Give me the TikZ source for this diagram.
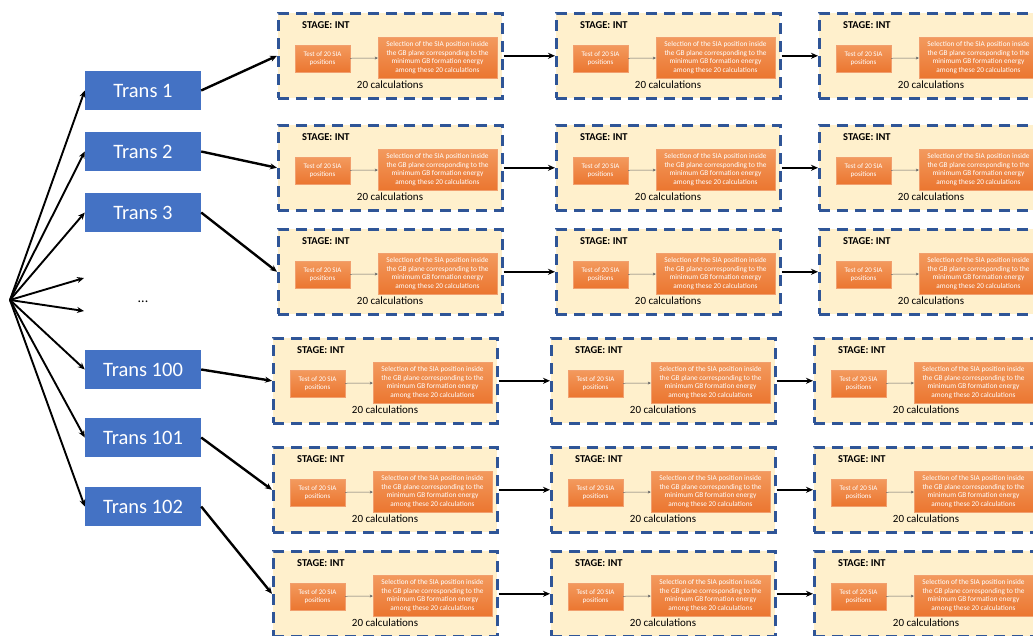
\documentclass[tikz,border=0pt]{standalone}
\usepackage{fontspec}
\setmainfont{Carlito}
\usetikzlibrary{arrows.meta}
\definecolor{transblue}{HTML}{4472C4}
\definecolor{dashblue}{HTML}{2F5597}
\definecolor{stagefill}{HTML}{FFF0CC}
\definecolor{orangetop}{HTML}{F39A5E}
\definecolor{orangebot}{HTML}{EB7630}
\tikzset{
  trans/.style={fill=transblue, text=white, minimum width=116, minimum height=39,
    inner sep=0pt, font=\fontsize{20.5}{24}\selectfont},
  stagebox/.style={draw=dashblue, fill=stagefill, line width=2.6pt,
    dash pattern=on 11pt off 7pt, minimum width=224, minimum height=85,
    inner sep=0pt, anchor=north west},
  stagetitle/.style={font=\fontsize{10.5}{12}\selectfont\bfseries, inner sep=0pt},
  orange/.style={top color=orangetop, bottom color=orangebot, draw=orangebot!70!white,
    line width=0.4pt, text=white, inner sep=0pt, align=center},
  testbox/.style={orange, minimum width=55, minimum height=27,
    font=\fontsize{7}{8.6}\selectfont},
  selbox/.style={orange, minimum width=119, minimum height=41,
    font=\fontsize{7.3}{8.7}\selectfont},
  calc/.style={font=\fontsize{11}{12}\selectfont, inner sep=0pt},
  link/.style={-{Stealth[length=7pt,width=6pt]}, line width=2.4pt},
  fan/.style={-{Stealth[length=7pt,width=6pt]}, line width=1.9pt},
  inner/.style={-{Stealth[length=3pt,width=3pt]}, line width=0.5pt, draw=black!60}
}
\newcommand{\stageunit}[3]{%
  \node[stagebox] (#1) at (#2,#3) {};
  \begin{scope}[shift={(#2,#3)}]
    \node[stagetitle, anchor=west] (#1t) at (25,13) {STAGE: INT};
    \node[testbox] (#1a) at (45.5,46.5) {Test of 20 SIA\\positions};
    \node[selbox] (#1b) at (160.5,45.5) {Selection of the SIA position inside\\the GB plane corresponding to the\\minimum GB formation energy\\among these 20 calculations};
    \node[calc] (#1c) at (113,73) {20 calculations};
  \end{scope}
  \draw[inner] (#1a) -- (#1b);
}
\begin{document}
\begin{tikzpicture}[x=1pt, y=-1pt]
  \useasboundingbox (0,0) rectangle (1033,635);
  \clip (0,0) rectangle (1033,635);

  % transitions
  \node[trans] (t1) at (143,90.5) {Trans 1};
  \node[trans] (t2) at (143,151.5) {Trans 2};
  \node[trans] (t3) at (143,212.5) {Trans 3};
  \node[font=\fontsize{14}{16}\selectfont] (dots) at (143,302) {...};
  \node[trans] (t100) at (143,369.5) {Trans 100};
  \node[trans] (t101) at (143,437.5) {Trans 101};
  \node[trans] (t102) at (143,506.5) {Trans 102};

  \coordinate (hub) at (10,300);
  \coordinate (d1) at (84,278);
  \coordinate (d2) at (84,311);

  % stages
  \stageunit{s11}{277}{12}
  \stageunit{s12}{555}{12}
  \stageunit{s13}{818}{12}
  \stageunit{s21}{277}{124}
  \stageunit{s22}{555}{124}
  \stageunit{s23}{818}{124}
  \stageunit{s31}{277}{228}
  \stageunit{s32}{555}{228}
  \stageunit{s33}{818}{228}
  \stageunit{s41}{272}{337}
  \stageunit{s42}{550}{337}
  \stageunit{s43}{813}{337}
  \stageunit{s51}{272}{446}
  \stageunit{s52}{550}{446}
  \stageunit{s53}{813}{446}
  \stageunit{s61}{272}{550}
  \stageunit{s62}{550}{550}
  \stageunit{s63}{813}{550}

  % fan out
  \draw[fan] (hub) -- (t1.west);
  \draw[fan] (hub) -- (t2.west);
  \draw[fan] (hub) -- (t3.west);
  \draw[fan] (hub) -- (d1);
  \draw[fan] (hub) -- (d2);
  \draw[fan] (hub) -- (t100.west);
  \draw[fan] (hub) -- (t101.west);
  \draw[fan] (hub) -- (t102.west);

  % into the stages
  \draw[link] (t1.east) -- (s11.west);
  \draw[link] (t2.east) -- (s21.west);
  \draw[link] (t3.east) -- (s31.west);
  \draw[link] (t100.east) -- (s41.west);
  \draw[link] (t101.east) -- (s51.west);
  \draw[link] (t102.east) -- (s61.west);

  \draw[link] (s11.east) -- (s12.west);
  \draw[link] (s12.east) -- (s13.west);
  \draw[link] (s21.east) -- (s22.west);
  \draw[link] (s22.east) -- (s23.west);
  \draw[link] (s31.east) -- (s32.west);
  \draw[link] (s32.east) -- (s33.west);
  \draw[link] (s41.east) -- (s42.west);
  \draw[link] (s42.east) -- (s43.west);
  \draw[link] (s51.east) -- (s52.west);
  \draw[link] (s52.east) -- (s53.west);
  \draw[link] (s61.east) -- (s62.west);
  \draw[link] (s62.east) -- (s63.west);
\end{tikzpicture}
\end{document}
